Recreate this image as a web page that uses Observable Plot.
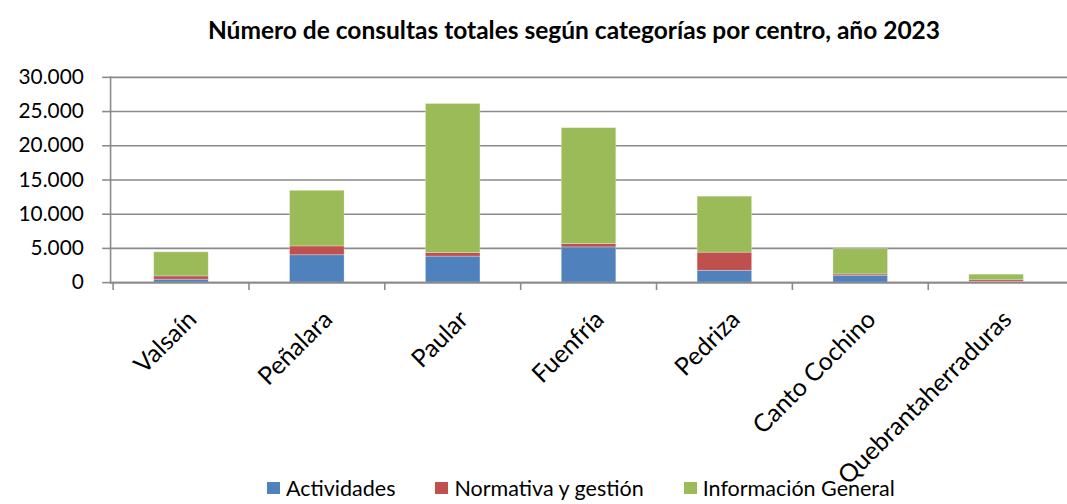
<!DOCTYPE html>
<html>
<head>
<meta charset="utf-8">
<script src="https://cdn.jsdelivr.net/npm/d3@7"></script>
<script src="https://cdn.jsdelivr.net/npm/@observablehq/plot@0.6"></script>
<style>
  html, body { margin: 0; padding: 0; background: #fff; overflow: hidden; width: 1067px; height: 504px; }
  body { font-family: Lato, "Open Sans", sans-serif; color: #000; }
  #title { height: 60px; line-height: 60px; font-weight: bold; font-size: 24.5px; text-align: center; width: 1148px; white-space: nowrap; }
  #chart svg { overflow: visible; display: block; }
  #legend { height: 26px; display: flex; align-items: center; font-size: 21.5px; padding-left: 267px; white-space: nowrap; }
  .item { display: flex; align-items: center; margin-right: 40px; }
  .sw { width: 13px; height: 12px; margin-right: 6px; }
</style>
</head>
<body>
<div id="title">Número de consultas totales según categorías por centro, año 2023</div>
<div id="chart"></div>
<div id="legend"></div>
<script>
const centros = ["Valsaín", "Peñalara", "Paular", "Fuenfría", "Pedriza", "Canto Cochino", "Quebrantaherraduras"];
const actividades = [430, 4000, 3800, 5150, 1730, 1010, 100];
const normativa = [480, 1290, 530, 480, 2650, 190, 240];
const informacion = [3520, 8130, 21780, 16950, 8180, 3710, 820];
const categorias = ["Actividades", "Normativa y gestión", "Información General"];
const colores = ["#4F81BD", "#C0504D", "#9BBB59"];
const yTicks = [0, 5000, 10000, 15000, 20000, 25000, 30000];

const series = [actividades, normativa, informacion];
const data = [];
centros.forEach((c, i) => {
  categorias.forEach((k, j) => data.push({centro: c, categoria: k, valor: series[j][i]}));
});

const width = 1076, marginLeft = 111, marginRight = 0;
const pInner = 0.6, pOuter = 0.3;
const step = (width - marginLeft - marginRight) / (centros.length - pInner + 2 * pOuter);
const fmt = d3.formatLocale({decimal: ",", thousands: ".", grouping: [3], currency: ["", "€"]}).format(",d");
const gray = "#8a8a8a";

const plot = Plot.plot({
  width, height: 418,
  marginLeft, marginRight, marginTop: 17, marginBottom: 194,
  style: {fontFamily: "Lato, 'Open Sans', sans-serif", fontSize: "22px", color: "#000", overflow: "visible"},
  x: {domain: centros, paddingInner: pInner, paddingOuter: pOuter, axis: null, label: null},
  y: {domain: [0, 30000], axis: null, label: null},
  color: {domain: categorias, range: colores},
  marks: [
    Plot.gridY(yTicks, {stroke: gray, strokeOpacity: 1, strokeWidth: 1.6}),
    Plot.axisY({ticks: yTicks, tickFormat: fmt, tickSize: 8, tickPadding: 19, stroke: gray, strokeWidth: 1.6, fontSize: 21, fill: "#000", label: null}),
    Plot.barY(data, {x: "centro", y: "valor", fill: "categoria", order: categorias, stroke: "#fff", strokeOpacity: 0.35, strokeWidth: 0.8}),
    Plot.frame({anchor: "left", stroke: gray, strokeWidth: 1.6}),
    Plot.ruleY([0], {stroke: gray, strokeWidth: 1.6}),
    Plot.ruleX(centros, {x: d => d, y1: 0, y2: 0, insetBottom: -8, dx: -step / 2, stroke: gray, strokeWidth: 1.6}),
    Plot.axisX({tickSize: 0, tickRotate: -45, tickPadding: 33, fontSize: 25, fill: "#000", dx: 11, label: null})
  ]
});
document.getElementById("chart").appendChild(plot);

const legend = document.getElementById("legend");
categorias.forEach((k, j) => {
  const it = document.createElement("div");
  it.className = "item";
  it.innerHTML = `<span class="sw" style="background:${colores[j]}"></span><span>${k}</span>`;
  legend.appendChild(it);
});
</script>
</body>
</html>
